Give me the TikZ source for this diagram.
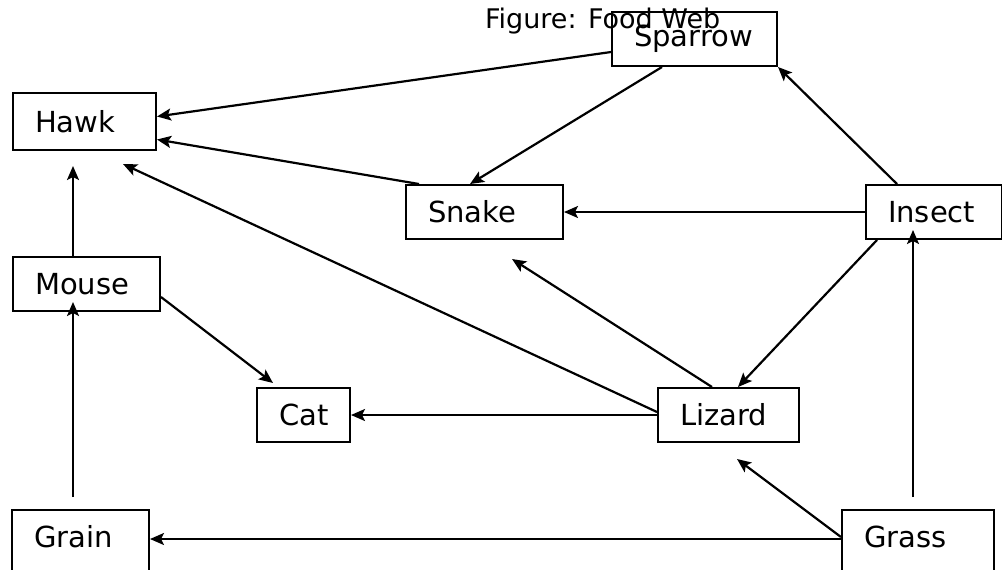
\documentclass[tikz,border=0pt]{standalone}
\usepackage{fontspec}
\setmainfont{DejaVu Sans}
\usetikzlibrary{calc, arrows.meta}

\tikzset{
	organism/.style = {draw, line width = 1pt, anchor = north west, align = left,
		inner xsep = 11pt, inner ysep = 0pt, minimum height = 27pt},
	ground/.style = {organism, minimum height = 0pt, inner ysep = 7.6pt,
		text height = 11pt, text depth = 30pt},
	eats/.style = {-{Stealth[length = 7pt, width = 6pt, inset = 1.5pt]}, line width = 1.1pt}
}

\begin{document}
\begin{tikzpicture}[x = 0.5pt, y = -0.5pt, font = \fontsize{14.5}{17}\selectfont]
		\useasboundingbox (0,0) rectangle (1002,569);
		
		\node [anchor = base west, font = \fontsize{13.5}{16}\selectfont] (title) at (478,28) {Figure: Food Web};
		
		%organisms
		\node [organism, text width = 60.5pt] (sparrow) at (611,11) {Sparrow};
		\node [organism, text width = 49.5pt, minimum height = 28.5pt] (hawk) at (12,92) {Hawk};
		\node [organism, text width = 56.5pt] (snake) at (405,184) {Snake};
		\node [organism, text width = 46pt] (insect) at (865,184) {Insect};
		\node [organism, text width = 51.5pt] (mouse) at (12,256) {Mouse};
		\node [organism, text width = 24.5pt] (cat) at (256,387) {Cat};
		\node [organism, text width = 48.5pt] (lizard) at (657,387) {Lizard};
		\node [ground, text width = 46.5pt] (grain) at (11,509) {Grain};
		\node [ground, text width = 54pt] (grass) at (841,509) {Grass};
		
		%who eats whom
		\draw [eats] ($(sparrow.west)+(0,13)$) -- ($(hawk.east)+(0,-5)$);
		\draw [eats] ($(snake.north west)+(14,0)$) -- ($(hawk.east)+(0,18)$);
		\draw [eats] ($(sparrow.south west)+(51,0)$) -- ($(snake.north west)+(65,0)$);
		\draw [eats] (insect.west) -- (snake.east);
		\draw [eats] ($(insect.north west)+(32,0)$) -- (sparrow.south east);
		\draw [eats] ($(insect.south west)+(12,0)$) -- ($(lizard.north west)+(81,0)$);
		\draw [eats] ($(grass.north west)+(72,-12)$) -- ($(insect.south west)+(48,-10)$);
		\draw [eats] ($(grass.north west)+(0,30)$) -- ($(grain.north east)+(0,30)$);
		\draw [eats] ($(grass.north west)+(0,28)$) -- ($(lizard.south west)+(80,16)$);
		\draw [eats] ($(lizard.west)+(0,-3)$) -- ($(hawk.south west)+(111,13)$);
		\draw [eats] ($(lizard.north west)+(55,0)$) -- ($(snake.south west)+(107,19)$);
		\draw [eats] (lizard.west) -- (cat.east);
		\draw [eats] ($(mouse.north east)+(0,41)$) -- ($(cat.north west)+(17,-4)$);
		\draw [eats] ($(mouse.north west)+(61,0)$) -- ($(hawk.south west)+(61,15)$);
		\draw [eats] ($(grain.north west)+(62,-12)$) -- ($(mouse.south west)+(61,-10)$);
	\end{tikzpicture}
\end{document}
